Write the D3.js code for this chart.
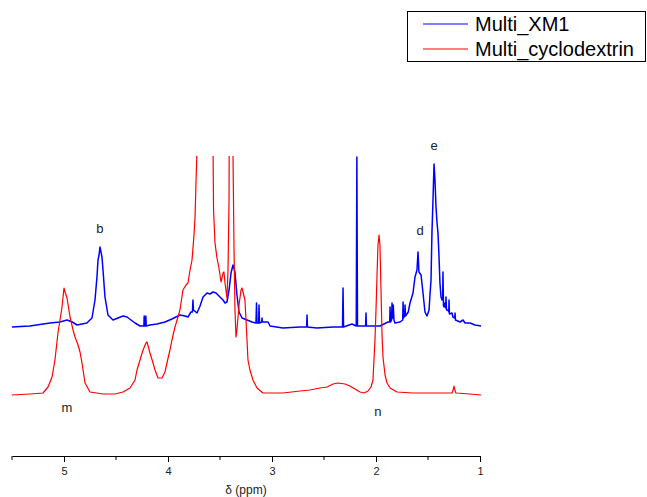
<!DOCTYPE html>
<html>
<head>
<meta charset="utf-8">
<script src="https://cdn.jsdelivr.net/npm/d3@7"></script>
<style>
  html, body { margin: 0; padding: 0; background: #fff; }
  svg { display: block; font-family: "Liberation Sans", Arial, sans-serif; }
</style>
</head>
<body>
<svg id="chart" width="647" height="497"></svg>
<script>
// 1H NMR spectra, chemical shift (ppm) vs intensity (arbitrary units)
const seriesNames = ["Multi_XM1", "Multi_cyclodextrin"];
const seriesColors = ["#0000ff", "#ff0000"];

// Multi_XM1 trace: [ppm, intensity]
const xm1Spectrum = [
  [5.50,-0.5],[5.33,0],[5.135,1.5],[5.04,2],[4.97,3],[4.92,2],[4.875,0.5],[4.78,1.5],
  [4.731,4],[4.702,13],[4.683,24.5],[4.673,33],[4.663,35.5],[4.654,39.5],[4.644,37],
  [4.635,34.5],[4.625,28],[4.606,14.5],[4.577,5.5],[4.529,3],[4.481,4],[4.433,5],
  [4.394,4.5],[4.356,3],[4.317,1.5],[4.269,0],
  [4.232,0],[4.229,5],[4.225,0],[4.216,0],[4.213,5],[4.209,0],
  [4.173,0.5],[4.106,1],[4.029,2],[3.962,3.5],[3.885,5.5],[3.837,5],[3.808,4.5],
  [3.779,7],[3.765,7],[3.760,13],[3.755,8],[3.721,6.5],[3.692,10],[3.663,14.5],
  [3.625,16.5],[3.596,16],[3.567,17],[3.538,16.5],[3.500,14.5],[3.471,13],[3.452,11.5],
  [3.433,12],[3.413,18],[3.394,26.5],[3.375,30.5],[3.356,27],[3.337,15.5],[3.317,7],
  [3.288,4],[3.240,3],[3.192,2],[3.154,1.5],[3.149,11.5],[3.144,1.5],[3.128,1.5],
  [3.125,10.5],[3.120,1.5],[3.099,2],[3.096,4],[3.092,2],[3.038,2],[3.019,0],
  [2.894,-1],[2.731,-0.5],[2.667,-0.5],[2.663,5.5],[2.659,-0.5],[2.567,-1],[2.413,-0.5],
  [2.322,-0.5],[2.317,19],[2.312,-0.5],[2.231,1],[2.190,0],[2.184,84.5],[2.178,0],
  [2.100,0],[2.096,6.5],[2.092,0],[2.058,0],[1.962,0],[1.885,2],[1.868,2],[1.865,9.5],
  [1.860,2],[1.850,3],[1.846,11.5],[1.840,4],[1.834,10.5],[1.827,3],[1.817,1.5],
  [1.769,2],[1.743,3],[1.740,12],[1.735,4],[1.724,5],[1.721,10.5],[1.716,5],[1.690,7],
  [1.673,11.5],[1.644,16.5],[1.625,24.5],[1.606,28],[1.596,37],[1.587,27],[1.567,25.5],
  [1.548,16.5],[1.529,7],[1.510,5],[1.490,8],[1.481,15.5],[1.471,23],[1.462,46.5],
  [1.452,63],[1.442,81],[1.433,73],[1.423,59.5],[1.413,51.5],[1.404,46.5],[1.394,34.5],
  [1.385,21.5],[1.375,14.5],[1.365,13],[1.359,13],[1.356,27],[1.351,10],[1.346,9.5],
  [1.337,11.5],[1.330,9],[1.327,14.5],[1.322,8],[1.310,8],[1.300,7],[1.298,13],
  [1.294,6],[1.269,6.5],[1.260,4.5],[1.243,4],[1.240,6.5],[1.236,3],[1.192,2],
  [1.163,3],[1.144,1.5],[1.096,1.5],[1.048,0.5],[0.99,0]
];

// Multi_cyclodextrin trace: [ppm, intensity]
const cyclodextrinSpectrum = [
  [5.50,0.5],[5.327,1],[5.202,1.5],[5.154,4.5],[5.115,9.5],[5.087,18],[5.058,31.5],
  [5.019,44.5],[5.000,54],[4.990,52],[4.971,49],[4.942,39.5],[4.913,33],[4.894,29.5],
  [4.865,25.5],[4.846,22],[4.827,16.5],[4.798,6.5],[4.750,2],[4.625,1],[4.510,1],
  [4.433,2],[4.365,4],[4.317,8],[4.298,13],[4.269,18],[4.240,23],[4.212,26.5],
  [4.202,27],[4.173,21.5],[4.144,16.5],[4.125,13],[4.096,9],[4.058,9],[4.029,12],
  [4.010,16.5],[3.981,23],[3.962,28],[3.933,34.5],[3.904,39.5],[3.885,43],[3.856,53],
  [3.827,55.5],[3.808,56.5],[3.788,63],[3.769,68],[3.750,80.5],[3.740,89.5],
  [3.731,106.5],[3.721,123],[3.644,600],[3.562,93],[3.548,76.5],[3.529,69],[3.510,64],
  [3.490,57],[3.481,59],[3.471,61.5],[3.462,62],[3.452,56.5],[3.433,49],[3.423,63],
  [3.413,98],[3.394,500],[3.375,120.5],[3.365,73],[3.356,43],[3.346,29.5],[3.337,33],
  [3.317,45.5],[3.298,53],[3.288,54],[3.279,52],[3.260,48],[3.250,38],[3.231,18],
  [3.212,13],[3.183,8],[3.144,4],[3.087,1.5],[2.894,1.5],[2.731,2.5],[2.635,3],
  [2.538,4],[2.471,4.5],[2.413,6],[2.365,6.5],[2.298,6],[2.250,5],[2.202,3.5],
  [2.154,2],[2.115,1.5],[2.077,2.5],[2.048,4.5],[2.029,8],[2.010,28],[2.000,43],
  [1.990,60.5],[1.981,75.5],[1.971,80.5],[1.962,75.5],[1.952,53],[1.942,30.5],
  [1.933,19.5],[1.913,10.5],[1.894,6.5],[1.865,4],[1.798,2],[1.644,1.5],[1.385,1.5],
  [1.269,1.5],[1.258,3],[1.250,5],[1.242,3],[1.231,1.5],[1.096,1],[0.99,0.5]
];

// vertical stacking offset of each trace (intensity units)
const seriesOffsets = [35, 0];

const majorTicks = [5, 4, 3, 2, 1];
const minorTicks = [5.5, 4.5, 3.5, 2.5, 1.5];
const axisTitle = "\u03b4 (ppm)";

// peak assignments: letter, trace index, shift
const peakLabels = [
  { text: "b", series: 0, ppm: 4.654 },
  { text: "d", series: 0, ppm: 1.596 },
  { text: "e", series: 0, ppm: 1.442 },
  { text: "m", series: 1, ppm: 4.971 },
  { text: "n", series: 1, ppm: 1.981 }
];

const svg = d3.select("#chart");
const plot = { left: 12, right: 480, top: 156, bottom: 456 };

const x = d3.scaleLinear().domain([5.5, 1]).range([plot.left, plot.right]);
const y = d3.scaleLinear().domain([-30, 120]).range([plot.bottom, plot.top]);

svg.append("defs").append("clipPath").attr("id", "plotClip")
  .append("rect")
  .attr("x", plot.left - 2).attr("y", plot.top)
  .attr("width", plot.right - plot.left + 6).attr("height", plot.bottom - plot.top);

const spectra = [xm1Spectrum, cyclodextrinSpectrum];
const widths = [1.5, 1.2];

const traces = svg.append("g").attr("clip-path", "url(#plotClip)");
spectra.forEach((data, i) => {
  const line = d3.line()
    .x(d => x(d[0]))
    .y(d => y(d[1] + seriesOffsets[i]));
  traces.append("path")
    .datum(data)
    .attr("d", line)
    .attr("fill", "none")
    .attr("stroke", seriesColors[i])
    .attr("stroke-width", widths[i])
    .attr("stroke-linejoin", "round");
});

// peak letters
const labelFont = "13px";
peakLabels.forEach(p => {
  const data = spectra[p.series];
  const pt = data.reduce((a, b) => Math.abs(b[0] - p.ppm) < Math.abs(a[0] - p.ppm) ? b : a);
  let ty, tx = x(p.ppm);
  if (p.series === 0) {
    ty = y(pt[1] + seriesOffsets[0]) - (p.text === "d" ? 17 : 14);
    if (p.text === "d") tx += 2;
  } else {
    ty = y(seriesOffsets[1]) + (p.text === "m" ? 16 : 20);
  }
  svg.append("text")
    .attr("x", tx).attr("y", ty)
    .attr("text-anchor", "middle")
    .attr("font-size", labelFont)
    .attr("fill", "#222")
    .text(p.text);
});

// x axis with minor ticks
const axisG = svg.append("g").attr("transform", `translate(0,${plot.bottom})`);
axisG.call(d3.axisBottom(x).tickValues(majorTicks).tickSize(6).tickSizeOuter(0)
  .tickPadding(5).tickFormat(d3.format("d")));
axisG.selectAll(".minor").data(minorTicks).join("line")
  .attr("class", "minor")
  .attr("x1", d => x(d)).attr("x2", d => x(d))
  .attr("y1", 0).attr("y2", 4)
  .attr("stroke", "#000");
axisG.select(".domain").attr("stroke", "#000");
axisG.selectAll(".tick line").attr("stroke", "#000");
axisG.selectAll(".tick text")
  .attr("font-size", "11px")
  .attr("font-family", "\"Liberation Sans\", Arial, sans-serif")
  .attr("fill", "#222");

svg.append("text")
  .attr("x", (plot.left + plot.right) / 2)
  .attr("y", 494)
  .attr("text-anchor", "middle")
  .attr("font-size", "12px")
  .attr("fill", "#222")
  .text(axisTitle);

// legend
const legend = svg.append("g");
legend.append("rect")
  .attr("x", 407.5).attr("y", 11.5)
  .attr("width", 238).attr("height", 50)
  .attr("fill", "#fff").attr("stroke", "#000");
seriesNames.forEach((name, i) => {
  const ly = 24 + i * 25;
  legend.append("line")
    .attr("x1", 423).attr("x2", 468)
    .attr("y1", ly).attr("y2", ly)
    .attr("stroke", seriesColors[i]).attr("stroke-width", 1);
  legend.append("text")
    .attr("x", 475).attr("y", ly + 7)
    .attr("font-size", "20px")
    .attr("fill", "#000")
    .text(name);
});
</script>
</body>
</html>
